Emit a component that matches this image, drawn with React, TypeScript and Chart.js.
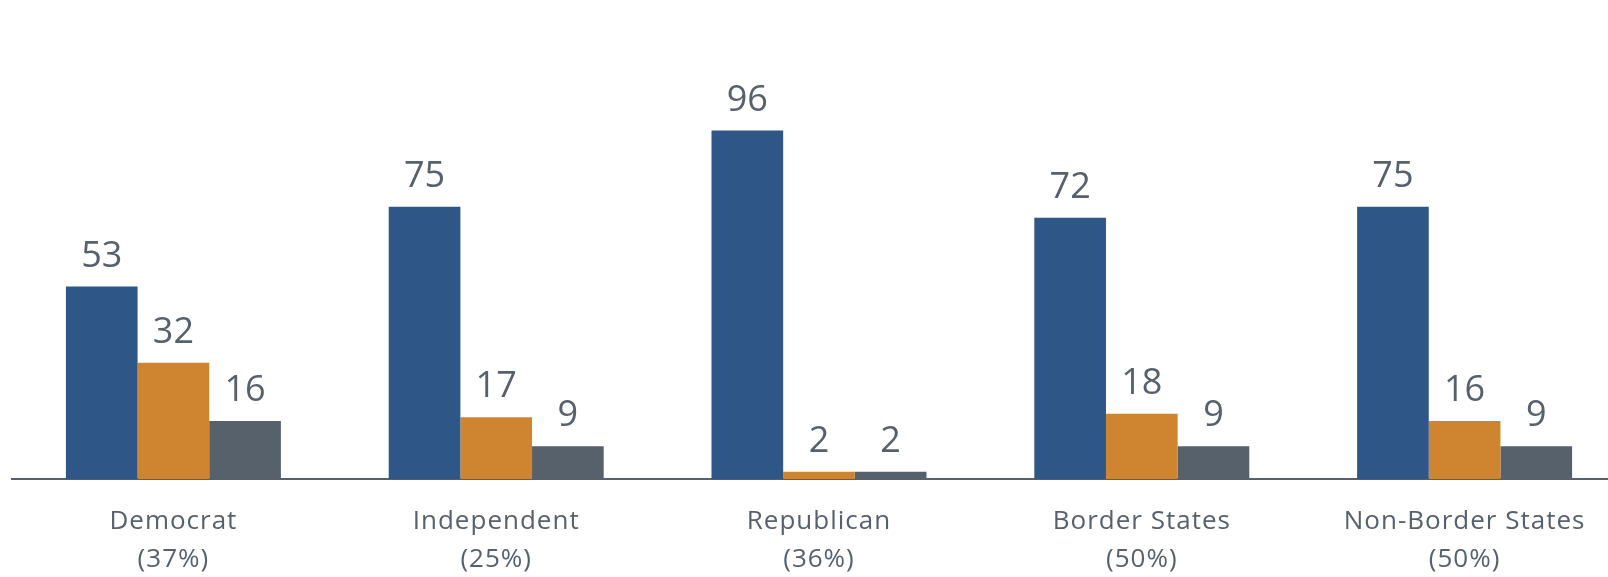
import React, { useEffect, useRef } from "react";
import { Chart, registerables } from "chart.js";

Chart.register(...registerables);

const categories = ["Democrat", "Independent", "Republican", "Border States", "Non-Border States"];
const shares = ["(37%)", "(25%)", "(36%)", "(50%)", "(50%)"];
const seriesBlue = [53, 75, 96, 72, 75];
const seriesOrange = [32, 17, 2, 18, 16];
const seriesGray = [16, 9, 2, 9, 9];

const TEXT = "#56616C";
const FONT = "'Open Sans', 'Noto Sans', sans-serif";

const spacing = {
  id: "spacing",
  beforeDraw(chart: any) {
    (chart.ctx as any).letterSpacing = "1px";
  },
};

const valueLabels = {
  id: "valueLabels",
  afterDatasetsDraw(chart: any) {
    const ctx = chart.ctx;
    ctx.save();
    (ctx as any).letterSpacing = "0px";
    ctx.fillStyle = TEXT;
    ctx.font = `36px ${FONT}`;
    ctx.textAlign = "center";
    ctx.textBaseline = "alphabetic";
    chart.data.datasets.forEach((ds: any, i: number) => {
      const meta = chart.getDatasetMeta(i);
      meta.data.forEach((bar: any, j: number) => {
        ctx.fillText(String(ds.data[j]), bar.x, bar.y - 20);
      });
    });
    ctx.restore();
  },
};

export default function App() {
  const ref = useRef<HTMLCanvasElement | null>(null);
  useEffect(() => {
    if (!ref.current) return;
    const chart = new Chart(ref.current, {
      type: "bar",
      data: {
        labels: categories.map((c, i) => [c, shares[i]]),
        datasets: [
          { label: "Series 1", data: seriesBlue, backgroundColor: "#2E5788" },
          { label: "Series 2", data: seriesOrange, backgroundColor: "#CF8530" },
          { label: "Series 3", data: seriesGray, backgroundColor: "#56616C" },
        ],
      },
      options: {
        responsive: false,
        animation: false,
        layout: { padding: { top: 116, left: 12, right: 14, bottom: 0 } },
        plugins: { legend: { display: false }, tooltip: { enabled: false } },
        datasets: { bar: { barPercentage: 1, categoryPercentage: 0.666 } },
        scales: {
          x: {
            grid: { display: false, drawTicks: false },
            border: { display: true, color: "#56616C", width: 2 },
            ticks: {
              color: TEXT,
              font: { family: FONT, size: 26, lineHeight: 1.46 },
              padding: 24,
              maxRotation: 0,
              autoSkip: false,
            },
            afterFit(scale: any) {
              scale.height = 577 - 479;
            },
          },
          y: { display: false, min: 0, max: 100 },
        },
      },
      plugins: [spacing, valueLabels],
    });
    return () => chart.destroy();
  }, []);
  return (
    <div style={{ position: "fixed", left: 0, top: 0, width: 1608, height: 577, overflow: "hidden", background: "#fff" }}>
      <canvas ref={ref} width={1640} height={577} style={{ display: "block", width: 1640, height: 577 }} />
    </div>
  );
}
